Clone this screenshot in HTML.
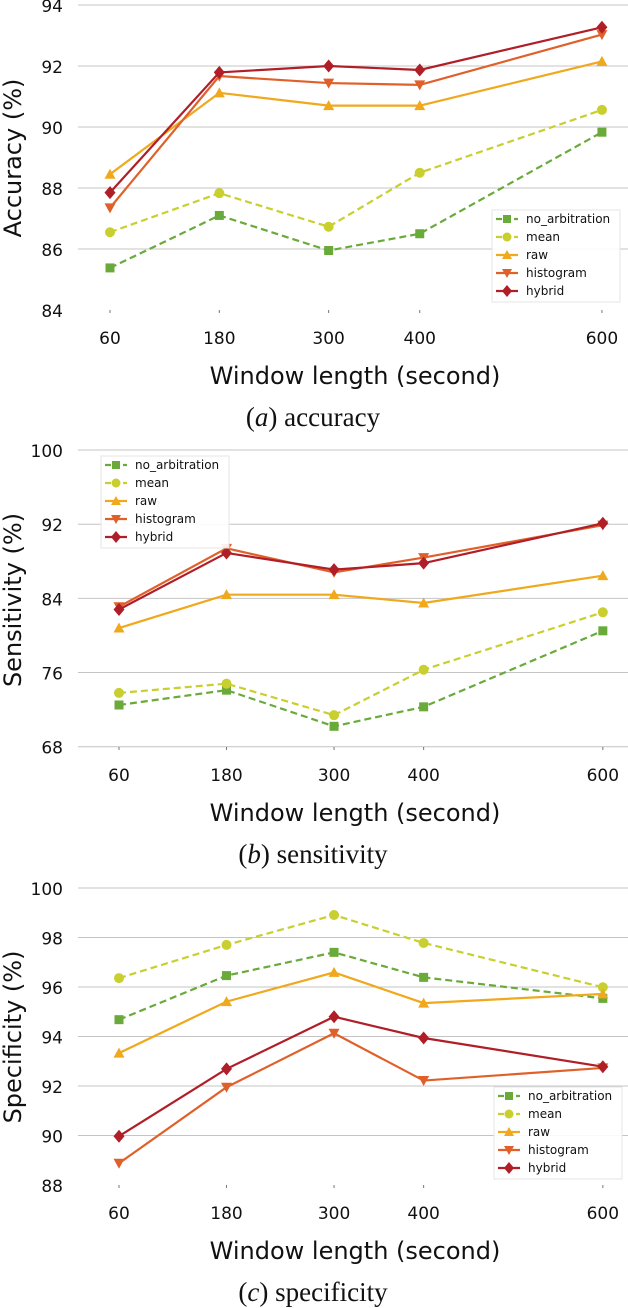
<!DOCTYPE html>
<html><head><meta charset="utf-8">
<style>
html,body{margin:0;padding:0;background:#fff;}
svg{display:block;font-family:"DejaVu Sans","Liberation Sans",sans-serif;}
</style></head>
<body>
<svg id="fig" width="628" height="1308" viewBox="0 0 628 1308" xmlns="http://www.w3.org/2000/svg"></svg>
<script>
const categories = [60, 180, 300, 400, 600];
const seriesNames = ["no_arbitration", "mean", "raw", "histogram", "hybrid"];
// accuracy
const accNoArb = [85.38, 87.1, 85.95, 86.5, 89.83];
const accMean = [86.55, 87.83, 86.73, 88.5, 90.56];
const accRaw = [88.45, 91.12, 90.7, 90.7, 92.15];
const accHist = [87.35, 91.67, 91.44, 91.38, 93.03];
const accHybrid = [87.85, 91.79, 92.0, 91.87, 93.27];
const accTicks = [84, 86, 88, 90, 92, 94];
// sensitivity
const senNoArb = [72.5, 74.1, 70.2, 72.3, 80.5];
const senMean = [73.8, 74.8, 71.4, 76.3, 82.5];
const senRaw = [80.8, 84.4, 84.4, 83.5, 86.45];
const senHist = [83.1, 89.4, 86.8, 88.4, 91.9];
const senHybrid = [82.8, 88.9, 87.1, 87.8, 92.1];
const senTicks = [68, 76, 84, 92, 100];
// specificity
const speNoArb = [94.68, 96.46, 97.4, 96.39, 95.54];
const speMean = [96.36, 97.7, 98.91, 97.78, 95.99];
const speRaw = [93.33, 95.41, 96.59, 95.35, 95.72];
const speHist = [88.88, 91.95, 94.13, 92.22, 92.73];
const speHybrid = [89.97, 92.69, 94.8, 93.94, 92.78];
const speTicks = [88, 90, 92, 94, 96, 98, 100];

const NS = "http://www.w3.org/2000/svg";
const svg = document.getElementById("fig");
const colors = ["#6aaa3a", "#c8cf2e", "#f0a81c", "#e0602a", "#b01e28"];
const dashed = [true, true, false, false, false];
const shapes = ["square", "circle", "up", "down", "diamond"];

function mk(tag, attrs, parent) {
  const e = document.createElementNS(NS, tag);
  for (const k in attrs) e.setAttribute(k, attrs[k]);
  (parent || svg).appendChild(e);
  return e;
}
function marker(g, shape, x, y, c, s) {
  let e;
  if (shape === "square") e = mk("rect", {x: x - s, y: y - s, width: 2 * s, height: 2 * s, fill: c}, g);
  else if (shape === "circle") e = mk("circle", {cx: x, cy: y, r: s + 0.5, fill: c}, g);
  else if (shape === "up") e = mk("polygon", {points: `${x},${y - s - 1} ${x - s - 1},${y + s} ${x + s + 1},${y + s}`, fill: c}, g);
  else if (shape === "down") e = mk("polygon", {points: `${x},${y + s + 1} ${x - s - 1},${y - s} ${x + s + 1},${y - s}`, fill: c}, g);
  else e = mk("polygon", {points: `${x},${y - s - 2} ${x + s + 1},${y} ${x},${y + s + 2} ${x - s - 1},${y}`, fill: c}, g);
  return e;
}

function chart(cfg) {
  const g = mk("g", {});
  
  
  const xS = v => cfg.x0 + (v - 60) * cfg.xk;
  const yS = v => cfg.yBase - (v - cfg.vMin) * cfg.yk;
  cfg.ticks.forEach(t => {
    const y = yS(t);
    if (!(cfg.noBottomGrid && t === cfg.vMin)) {
      const gl = mk("line", {x1: 78, x2: 628, y1: y, y2: y, stroke: "#c4c4c4", "stroke-width": 1}, g);
      
      
    }
    const tl = mk("text", {x: 63, y: y + 7, "text-anchor": "end", "font-size": 17, fill: "#111"}, g);
    tl.textContent = t;
    
    
  });
  categories.forEach(c => {
    const x = xS(c);
    mk("line", {x1: x, x2: x, y1: cfg.axisY, y2: cfg.axisY + 3, stroke: "#777", "stroke-width": 1}, g);
    const tl = mk("text", {x: x, y: cfg.axisY + 34, "text-anchor": "middle", "font-size": 17, fill: "#111"}, g);
    tl.textContent = c;
    
    
  });
  const yt = mk("text", {x: 0, y: 0, "text-anchor": "middle", "font-size": 24, fill: "#111", transform: `translate(21,${cfg.yTitleY}) rotate(-90)`}, g);
  yt.textContent = cfg.yTitle;
  
  
  const xt = mk("text", {x: 355, y: cfg.axisY + 74, "text-anchor": "middle", "font-size": 24, fill: "#111"}, g);
  xt.textContent = "Window length (second)";
  
  
  const cap = mk("text", {x: 313, y: cfg.axisY + 116, "text-anchor": "middle", "font-size": 27, fill: "#111", "font-family": "Liberation Serif, serif"}, g);
  cap.innerHTML = `(<tspan font-style="italic">${cfg.letter}</tspan>) ${cfg.caption}`;
  
  
  cfg.series.forEach((vals, i) => {
    const pts = vals.map((v, j) => `${xS(categories[j])},${yS(v)}`).join(" ");
    const pl = mk("polyline", {points: pts, fill: "none", stroke: colors[i], "stroke-width": 2.2, "stroke-dasharray": dashed[i] ? "7,4" : "none"}, g);
    
    
    vals.forEach((v, j) => {
      const m = marker(g, shapes[i], xS(categories[j]), yS(v), colors[i], 4.5);
      
      
    });
  });
  const lg = mk("g", {}, g);
  
  
  mk("rect", {x: cfg.lx, y: cfg.ly, width: 128, height: 92, fill: "#fff", "fill-opacity": 0.9, stroke: "#e4e4e4"}, lg);
  seriesNames.forEach((n, i) => {
    const yy = cfg.ly + 9 + i * 18;
    const ent = mk("g", {}, lg);
    
    
    mk("line", {x1: cfg.lx + 4, x2: cfg.lx + 26, y1: yy, y2: yy, stroke: colors[i], "stroke-width": 2.2, "stroke-dasharray": dashed[i] ? "6,3" : "none"}, ent);
    marker(ent, shapes[i], cfg.lx + 15, yy, colors[i], 4);
    const t = mk("text", {x: cfg.lx + 34, y: yy + 4, "font-size": 12, fill: "#111"}, ent);
    t.textContent = n;
  });
}

chart({name: "accuracy-chart", x0: 110, xk: 0.911, vMin: 84, yBase: 310, yk: 30.5, ticks: accTicks, noBottomGrid: true,
  axisY: 310, yTitle: "Accuracy (%)", yTitleY: 158, letter: "a", caption: "accuracy",
  series: [accNoArb, accMean, accRaw, accHist, accHybrid], lx: 492, ly: 210});
chart({name: "sensitivity-chart", x0: 119, xk: 0.896, vMin: 68, yBase: 746.7, yk: 9.27, ticks: senTicks,
  axisY: 747, yTitle: "Sensitivity (%)", yTitleY: 600, letter: "b", caption: "sensitivity",
  series: [senNoArb, senMean, senRaw, senHist, senHybrid], lx: 101, ly: 456});
chart({name: "specificity-chart", x0: 119, xk: 0.896, vMin: 88, yBase: 1185, yk: 24.75, ticks: speTicks, noBottomGrid: true,
  axisY: 1185, yTitle: "Specificity (%)", yTitleY: 1037, letter: "c", caption: "specificity",
  series: [speNoArb, speMean, speRaw, speHist, speHybrid], lx: 494, ly: 1087});
</script>
</body></html>
